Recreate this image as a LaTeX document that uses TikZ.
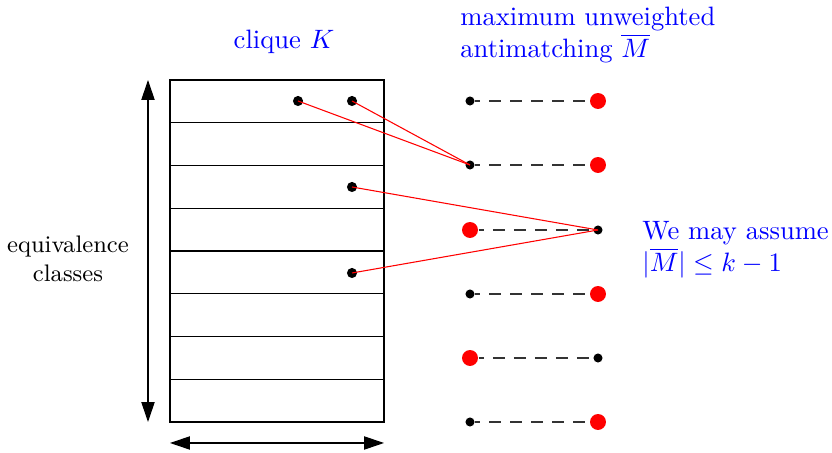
\documentclass[tikz,border=0pt]{standalone}
\usepackage{amsmath,amssymb}
\usetikzlibrary{arrows.meta, positioning}

\begin{document}
\begin{tikzpicture}[x=0.376pt, y=-0.376pt,
    kdot/.style={circle, fill=black, inner sep=0pt, minimum size=3.8pt},
    bdot/.style={circle, fill=black, inner sep=0pt, minimum size=3.4pt},
    rdot/.style={circle, fill=red, inner sep=0pt, minimum size=6pt},
    anti/.style={black!80, dash pattern=on 4.5pt off 3.4pt, dash phase=2.5pt},
    link/.style={red},
    span/.style={{Triangle[length=7.5pt,width=5pt]}-{Triangle[length=7.5pt,width=5pt]}},
    note/.style={blue, align=left, anchor=west},
]
\useasboundingbox (0,0) rectangle (832,453);
% clique with its equivalence classes
\draw (170,80) rectangle (384,422);
\foreach \y in {122.75,165.5,208.25,251,293.75,336.5,379.25}
  \draw (170,\y) -- (384,\y);
\node[blue] (clique) at (284,42) {clique $K$};
\node[align=center, font=\small] (classes) at (68,259) {equivalence\\classes};
\coordinate (vtop) at (148,80);
\coordinate (vbot) at (148,422);
\coordinate (hleft) at (170,443);
\coordinate (hright) at (384,443);
\draw[span] (vtop) -- (vbot);
\draw[span] (hleft) -- (hright);
% vertices in K
\node[kdot] (k1) at (298,101) {};
\node[kdot] (k2) at (352,101) {};
\node[kdot] (k3) at (352,187) {};
\node[kdot] (k4) at (352,273) {};
% antimatching
\node[note] (title) at (451,35) {maximum unweighted\\antimatching $\overline{M}$};
\node[bdot] (a1) at (470,101) {};
\node[rdot] (b1) at (598,101) {};
\node[bdot] (a2) at (470,165) {};
\node[rdot] (b2) at (598,165) {};
\node[rdot] (a3) at (470,230) {};
\node[bdot] (b3) at (598,230) {};
\node[bdot] (a4) at (470,294) {};
\node[rdot] (b4) at (598,294) {};
\node[rdot] (a5) at (470,358) {};
\node[bdot] (b5) at (598,358) {};
\node[bdot] (a6) at (470,422) {};
\node[rdot] (b6) at (598,422) {};
\foreach \i in {1,...,6}
  \draw[anti] (a\i) -- (b\i);
\node[note] (assume) at (633,250) {We may assume\\$|\overline{M}|\le k-1$};
% edges to the antimatching
\draw[link] (k1.center) -- (a2.center);
\draw[link] (k2.center) -- (a2.center);
\draw[link] (k3.center) -- (b3.center);
\draw[link] (k4.center) -- (b3.center);
\end{tikzpicture}
\end{document}
